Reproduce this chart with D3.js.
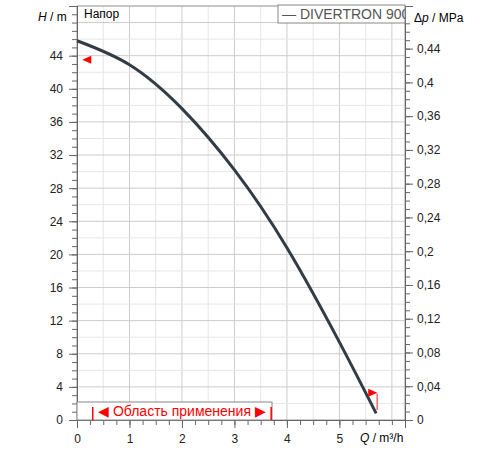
<!DOCTYPE html><html><head><meta charset="utf-8"><script src="https://cdn.jsdelivr.net/npm/d3@7"></script>
<style>body{margin:0;background:#fff}text{font-family:"Liberation Sans",Arial,sans-serif}</style></head><body><script>
const qVals=[0,1,2,3,4,5,5.7];
const hVals=[45.8,42.9,37.6,30.2,20.8,9.4,0.8];
const xTicks=[0,1,2,3,4,5];
const yTicks=[0,4,8,12,16,20,24,28,32,36,40,44];
const pTicks=[0,0.04,0.08,0.12,0.16,0.2,0.24,0.28,0.32,0.36,0.4,0.44];
const svg=d3.select("body").append("svg").attr("width",500).attr("height",450);
const x=d3.scaleLinear().domain([0,6.25]).range([77,405]);
const y=d3.scaleLinear().domain([0,50]).range([420,6]);
const p=d3.scaleLinear().domain([0,50*0.00981]).range([420,6]);
const g=svg.append("g");
const minor=(d)=>d3.range(d[0],d[1]+1e-9,d[2]);
g.selectAll(".vg").data(minor([0,6,0.5]).slice(1)).join("line").attr("x1",d=>x(d)).attr("x2",d=>x(d)).attr("y1",6).attr("y2",420).attr("stroke",d=>d%1===0?"#ccc":"#e6e6e6");
g.selectAll(".hg").data(minor([0,50,2]).slice(1)).join("line").attr("y1",d=>y(d)).attr("y2",d=>y(d)).attr("x1",77).attr("x2",405).attr("stroke",d=>d%4===0?"#ccc":"#e6e6e6");
svg.append("rect").attr("x",77).attr("y",6).attr("width",328).attr("height",414).attr("fill","none").attr("stroke","#999");
svg.append("g").attr("transform","translate(77,0)").call(d3.axisLeft(y).tickValues(yTicks).tickSize(8).tickPadding(6));
svg.append("g").attr("transform","translate(77,0)").call(d3.axisLeft(y).tickValues(d3.range(0,50,1)).tickSize(5).tickFormat(""));
svg.append("g").attr("transform","translate(0,420)").call(d3.axisBottom(x).tickValues(xTicks).tickSize(8).tickPadding(6).tickFormat(d3.format("d")));
svg.append("g").attr("transform","translate(0,420)").call(d3.axisBottom(x).tickValues(d3.range(0,6.25,0.25)).tickSize(5).tickFormat(""));
svg.append("g").attr("transform","translate(405,0)").call(d3.axisRight(p).tickValues(pTicks).tickSize(8).tickPadding(4).tickFormat(d=>d===0?"0":String(+d.toFixed(2)).replace(".",",")));
svg.append("g").attr("transform","translate(405,0)").call(d3.axisRight(p).tickValues(d3.range(0,0.48,0.01)).tickSize(5).tickFormat(""));
svg.selectAll(".domain").attr("stroke","#666");
svg.selectAll(".tick line").attr("stroke","#666");
svg.selectAll(".tick text").attr("font-size",12).attr("fill","#222").attr("font-family","Liberation Sans, Arial");
svg.append("text").attr("x",38).attr("y",21).attr("font-size",12).html('<tspan font-style="italic">H</tspan> / m');
svg.append("text").attr("x",414).attr("y",22).attr("font-size",12).html('Δ<tspan font-style="italic">p</tspan> / MPa');
svg.append("text").attr("x",360).attr("y",442).attr("font-size",12).html('<tspan font-style="italic">Q</tspan> / m³/h');
svg.append("text").attr("x",84).attr("y",18).attr("font-size",12).text("Напор");
svg.append("clipPath").attr("id","lc").append("rect").attr("x",278).attr("y",4).attr("width",127).attr("height",20);
svg.append("rect").attr("x",278).attr("y",5).attr("width",127).attr("height",18).attr("fill","#fff").attr("stroke","#888");
svg.append("text").attr("clip-path","url(#lc)").attr("x",282).attr("y",19).attr("font-size",14).attr("fill","#555").text("— DIVERTRON 900");
svg.append("path").datum(qVals.map((q,i)=>[q,hVals[i]])).attr("d",d3.line().x(d=>x(d[0])).y(d=>y(d[1])).curve(d3.curveNatural)).attr("fill","none").attr("stroke","#333c46").attr("stroke-width",3);
const tri=(cx,cy,dir)=>svg.append("path").attr("d",`M${cx},${cy-4}L${cx},${cy+4}L${cx+dir*9},${cy}Z`).attr("fill","#f00");
tri(x(0.1)+9,y(43.5),-1);
tri(x(5.55),y(3.3),1);
svg.append("line").attr("x1",x(5.72)).attr("x2",x(5.72)).attr("y1",y(1.2)).attr("y2",y(3.2)).attr("stroke","#f66").attr("stroke-width",1.5);
svg.append("rect").attr("x",77).attr("y",402).attr("width",195).attr("height",18).attr("fill","#fff").attr("stroke","#888");
[0.3,3.7].forEach(q=>svg.append("line").attr("x1",x(q)).attr("x2",x(q)).attr("y1",407).attr("y2",420).attr("stroke","#f00").attr("stroke-width",1.5));
svg.append("text").attr("x",x(2)).attr("y",416).attr("text-anchor","middle").attr("font-size",14).attr("fill","#f00").text("◀ Область применения ▶");
</script></body></html>
